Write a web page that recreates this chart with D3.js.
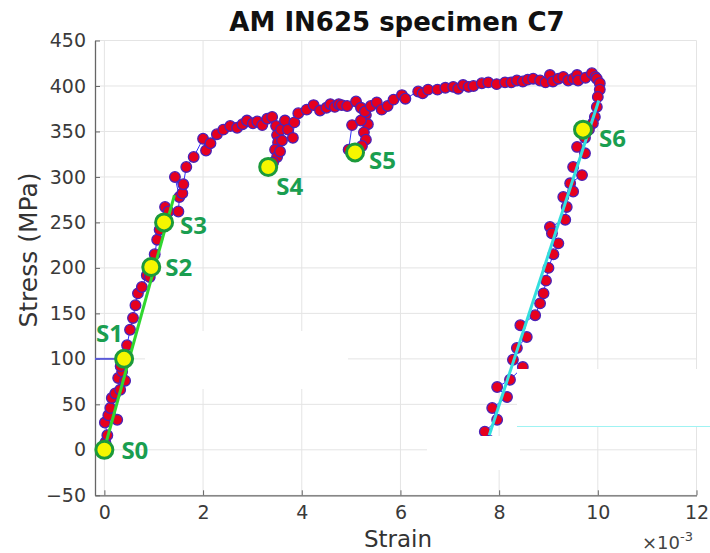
<!DOCTYPE html>
<html><head><meta charset="utf-8">
<script src="https://cdn.jsdelivr.net/npm/d3@7"></script>
<style>body{margin:0;background:#fff}svg{display:block}</style>
</head><body>
<svg id="c" width="710" height="553"></svg>
<script>
// strain in units of 1e-3, stress in MPa
const strain = [0.02,0.06,0.01,0.08,0.12,0.26,0.15,0.22,0.32,0.28,0.36,0.42,0.33,0.40,0.46,0.52,0.58,0.63,0.68,0.76,0.86,0.92,0.95,1.02,1.07,1.12,1.21,1.23,1.30,1.50,1.52,1.43,1.58,1.60,1.66,1.81,2.00,2.06,2.15,2.28,2.41,2.55,2.69,2.80,2.89,3.01,3.10,3.20,3.30,3.40,
  3.48,3.50,3.52,3.46,3.50,3.42,3.32,3.56,3.60,3.58,3.66,3.72,3.82,3.85,3.93,
  4.10,4.24,4.37,4.50,4.58,4.67,4.75,4.81,4.92,
  5.10,5.20,5.30,5.34,5.26,5.30,5.22,5.10,4.95,5.02,5.20,5.28,5.40,
  5.52,5.62,5.74,5.86,6.03,6.10,6.36,6.45,6.56,6.75,6.91,7.07,7.17,7.27,7.38,7.48,7.65,7.78,7.95,8.12,8.25,8.36,8.48,8.58,8.69,8.83,8.94,9.03,9.09,9.20,9.30,9.40,9.50,9.58,9.60,9.75,9.88,9.95,
  9.98,10.04,10.04,10.00,9.98,9.94,9.90,9.82,9.74,9.58,9.74,9.50,9.68,9.44,9.50,9.30,9.37,9.34,9.03,9.07,9.20,9.10,9.00,8.95,8.90,8.83,8.73,8.43,8.56,8.36,8.28,8.48,8.22,7.96,8.16,7.86,7.96,7.71,7.80];
const stress = [8,16,30,38,46,33,57,62,66,79,86,76,92,100,115,132,145,159,172,179,192,190,201,215,231,242,250,267,262,262,278,300,282,292,311,322,342,329,337,347,352,356,354,358,362,359,361,357,364,366,
  356,346,338,330,322,316,311,328,340,352,362,352,343,360,370,
  374,379,373,376,380,377,380,379,378,
  383,376,368,358,349,341,334,328,330,357,362,372,378,
  382,374,378,385,390,386,394,392,396,396,398,399,397,401,399,400,403,404,402,404,404,406,405,407,408,406,404,412,405,408,410,406,408,412,406,409,414,410,
  408,403,396,388,377,366,359,352,343,333,326,311,302,293,284,278,267,253,245,238,227,215,200,186,172,161,148,137,124,112,99,91,77,69,58,46,33,20,10];

const stageNames = ["S0","S1","S2","S3","S4","S5","S6"];
const stageStrain = [0.0, 0.40, 0.95, 1.21, 3.32, 5.08, 9.70];
const stageStress = [0, 100, 201, 250, 311, 327, 352];

const loadFitStrain = [0.02, 1.42];
const loadFitStress = [5, 280];
const unloadFitStrain = [7.80, 10.02];
const unloadFitStress = [16, 384];
const refStrain = [-0.19, 0.40];
const refStress = [100, 100];

const xTicks = [0,2,4,6,8,10,12];
const yTicks = [-50,0,50,100,150,200,250,300,350,400,450];

const svg = d3.select("#c");
const x = d3.scaleLinear().domain([-0.19, 12]).range([95, 696.5]);
const y = d3.scaleLinear().domain([-50, 450]).range([495.3, 40.5]);
const font = "DejaVu Sans, sans-serif";

// grid
const g = svg.append("g");
g.selectAll(".gx").data(xTicks).enter().append("line")
  .attr("x1", d=>x(d)).attr("x2", d=>x(d)).attr("y1", y(-50)).attr("y2", y(450))
  .attr("stroke", "#e4e4e4").attr("stroke-width", 1);
g.selectAll(".gy").data(yTicks).enter().append("line")
  .attr("x1", x(-0.19)).attr("x2", x(12)).attr("y1", d=>y(d)).attr("y2", d=>y(d))
  .attr("stroke", "#e4e4e4").attr("stroke-width", 1);

// axes
const xAxis = d3.axisBottom(x).tickValues(xTicks).tickSizeInner(-5).tickSizeOuter(0).tickPadding(10).tickFormat(d3.format("d"));
const yAxis = d3.axisLeft(y).tickValues(yTicks).tickSizeInner(-5).tickSizeOuter(0).tickPadding(9).tickFormat(d3.format("d"));
const gx = svg.append("g").attr("transform", `translate(0,${y(-50)})`).call(xAxis);
const gy = svg.append("g").attr("transform", `translate(${x(-0.19)},0)`).call(yAxis);
[gx, gy].forEach(a => {
  a.select(".domain").attr("stroke", "#666").attr("stroke-width", 1.3);
  a.selectAll(".tick line").attr("stroke", "#666");
  a.selectAll(".tick text").attr("fill", "#3a3a3a").style("font-family", font).style("font-size", "19px");
});

// reference blue segment at 100 MPa
svg.append("path").datum(refStrain.map((s,i)=>[s, refStress[i]]))
  .attr("d", d3.line().x(d=>x(d[0])).y(d=>y(d[1])))
  .attr("fill","none").attr("stroke","#5a5ad8").attr("stroke-width",2);

// curve
const pts = strain.map((s,i)=>[s, stress[i]]);
svg.append("path").datum(pts).attr("d", d3.line().x(d=>x(d[0])).y(d=>y(d[1])))
  .attr("fill","none").attr("stroke","#3030ff").attr("stroke-width",1);
svg.append("g").selectAll("circle").data(pts).enter().append("circle")
  .attr("cx", d=>x(d[0])).attr("cy", d=>y(d[1])).attr("r", 5.3)
  .attr("fill", "#e6001e").attr("stroke", "#4a22b8").attr("stroke-width", 1.3);

// fit lines
svg.append("path").datum(loadFitStrain.map((s,i)=>[s, loadFitStress[i]]))
  .attr("d", d3.line().x(d=>x(d[0])).y(d=>y(d[1])))
  .attr("stroke","#2fd62f").attr("stroke-width",3).attr("fill","none");
svg.append("path").datum(unloadFitStrain.map((s,i)=>[s, unloadFitStress[i]]))
  .attr("d", d3.line().x(d=>x(d[0])).y(d=>y(d[1])))
  .attr("stroke","#33dede").attr("stroke-width",3).attr("fill","none");

// masks (white patches in the original image)
svg.append("rect").attr("x",145).attr("y",331).attr("width",203).attr("height",58).attr("fill","#fff");
svg.append("rect").attr("x",517).attr("y",369).attr("width",193).attr("height",57).attr("fill","#fff");
svg.append("line").attr("x1",517).attr("x2",710).attr("y1",426.5).attr("y2",426.5).attr("stroke","#9ff3f3").attr("stroke-width",1);
svg.append("rect").attr("x",427).attr("y",436).attr("width",93).attr("height",34).attr("fill","#fff");

// stage markers
const stages = stageNames.map((n,i)=>({n, s:stageStrain[i], t:stageStress[i]}));
svg.append("g").selectAll("circle").data(stages).enter().append("circle")
  .attr("cx", d=>x(d.s)).attr("cy", d=>y(d.t)).attr("r", 8.5)
  .attr("fill", "#f6f600").attr("stroke", "#1c9a3a").attr("stroke-width", 3);
const labelOff = {S0:[17,9],S1:[-28,-17],S2:[14,9],S3:[16,12],S4:[8,28],S5:[14,17],S6:[16,17]};
svg.append("g").selectAll("text").data(stages).enter().append("text")
  .attr("x", d=>x(d.s)+labelOff[d.n][0]).attr("y", d=>y(d.t)+labelOff[d.n][1])
  .text(d=>d.n).attr("fill","#1a9e50").style("font-family","Open Sans, sans-serif")
  .style("font-weight","bold").style("font-size","24px");

// titles
svg.append("text").attr("x", 397).attr("y", 31).attr("text-anchor","middle")
  .style("font-family", font).style("font-weight","bold").style("font-size","26px").attr("fill","#111")
  .text("AM IN625 specimen C7");
svg.append("text").attr("x", 398).attr("y", 547).attr("text-anchor","middle")
  .style("font-family", font).style("font-size","23px").attr("fill","#333").text("Strain");
svg.append("text").attr("transform","translate(37,250) rotate(-90)").attr("text-anchor","middle")
  .style("font-family", font).style("font-size","25px").attr("fill","#333").text("Stress (MPa)");
const mult = svg.append("text").attr("x", 642).attr("y", 549)
  .style("font-family", font).style("font-size","18px").attr("fill","#444");
mult.append("tspan").text("\u00d710");
mult.append("tspan").attr("dy",-8).style("font-size","13px").text("-3");
</script>
</body></html>
